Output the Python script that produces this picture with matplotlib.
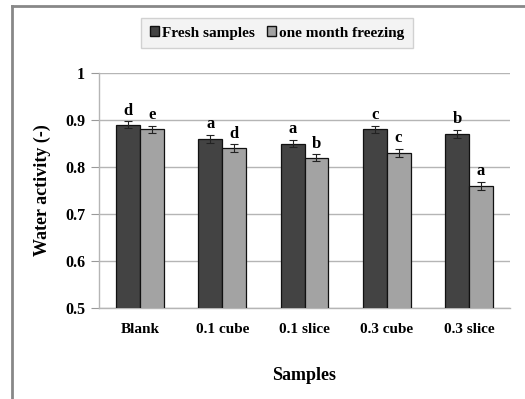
import matplotlib
matplotlib.use("Agg")
import matplotlib.pyplot as plt
import numpy as np
from matplotlib.lines import Line2D
from matplotlib.patches import Patch

categories = ["Blank", "0.1 cube", "0.1 slice", "0.3 cube", "0.3 slice"]
fresh = [0.89, 0.86, 0.85, 0.88, 0.87]
frozen = [0.88, 0.84, 0.82, 0.83, 0.76]
fresh_err = [0.007, 0.008, 0.007, 0.008, 0.009]
frozen_err = [0.008, 0.008, 0.007, 0.009, 0.008]
fresh_letters = ["d", "a", "a", "c", "b"]
frozen_letters = ["e", "d", "b", "c", "a"]
series_names = ["Fresh samples", "one month freezing"]

plt.rcParams['font.family'] = ['Liberation Serif', 'DejaVu Serif']
plt.rcParams['font.weight'] = 'bold'

fig = plt.figure(figsize=(5.25, 3.99), dpi=100)
ax = fig.add_axes([99/525, 1-308/399, 411/525, 235/399])

x = np.arange(len(categories))
w = 0.29
c_fresh = "#434343"
c_frozen = "#a3a3a3"
ax.bar(x - w/2, fresh, w, color=c_fresh, edgecolor="#111111", linewidth=0.9, zorder=3)
ax.bar(x + w/2, frozen, w, color=c_frozen, edgecolor="#111111", linewidth=0.9, zorder=3)
ax.errorbar(x - w/2, fresh, yerr=fresh_err, fmt="none", ecolor="#222222", elinewidth=0.8, capsize=3, capthick=0.8, zorder=4)
ax.errorbar(x + w/2, frozen, yerr=frozen_err, fmt="none", ecolor="#222222", elinewidth=0.8, capsize=3, capthick=0.8, zorder=4)

for i in range(len(categories)):
    ax.annotate(fresh_letters[i], (x[i] - w/2, fresh[i] + fresh_err[i]), xytext=(0, 2),
                textcoords="offset points", ha="center", va="bottom", fontsize=12, fontweight="bold")
    ax.annotate(frozen_letters[i], (x[i] + w/2, frozen[i] + frozen_err[i]), xytext=(0, 2),
                textcoords="offset points", ha="center", va="bottom", fontsize=12, fontweight="bold")

ax.set_ylim(0.5, 1.0)
ax.set_xlim(-0.5, len(categories) - 0.5)
ax.set_yticks([0.5, 0.6, 0.7, 0.8, 0.9, 1.0])
ax.set_yticklabels(["0.5", "0.6", "0.7", "0.8", "0.9", "1"])
ax.set_xticks(x)
ax.set_xticklabels(categories)
ax.tick_params(axis="y", length=6, color="#999999", labelsize=11.5, pad=4)
ax.tick_params(axis="x", length=0, labelsize=11, pad=11)
for lab in ax.get_xticklabels() + ax.get_yticklabels():
    lab.set_fontweight("bold")
ax.grid(axis="y", color="#b5b5b5", linewidth=1.0, zorder=0)
ax.set_axisbelow(True)
for s in ["top", "right"]:
    ax.spines[s].set_visible(False)
ax.spines["left"].set_color("#b5b5b5")
ax.spines["bottom"].set_color("#b5b5b5")
ax.spines["left"].set_linewidth(1.0)
ax.spines["bottom"].set_linewidth(1.0)

ax.set_ylabel("Water activity (-)", fontsize=13, fontweight="bold", labelpad=10)
ax.set_xlabel("Samples", fontsize=13, fontweight="bold", labelpad=22)

handles = [Patch(facecolor=c_fresh, edgecolor="#111111"), Patch(facecolor=c_frozen, edgecolor="#111111")]
leg = fig.legend(handles, series_names, loc="center", bbox_to_anchor=(277/525, 1-33/399),
                 ncol=2, frameon=True, handlelength=0.6, handleheight=0.6,
                 handletextpad=0.2, columnspacing=0.8, borderpad=0.55, fancybox=False,
                 prop={"weight": "bold", "size": 11})
leg.get_frame().set_facecolor("#f0f0f0")
leg.get_frame().set_edgecolor("#c8c8c8")
leg.get_frame().set_linewidth(1.0)

# outer frame lines
fig.add_artist(Line2D([11.5/525, 11.5/525], [0, 1-6/399], transform=fig.transFigure, color="#888888", linewidth=2))
fig.add_artist(Line2D([11.5/525, 1], [1-6/399, 1-6/399], transform=fig.transFigure, color="#888888", linewidth=2))

fig.savefig("out.png", dpi=100)
